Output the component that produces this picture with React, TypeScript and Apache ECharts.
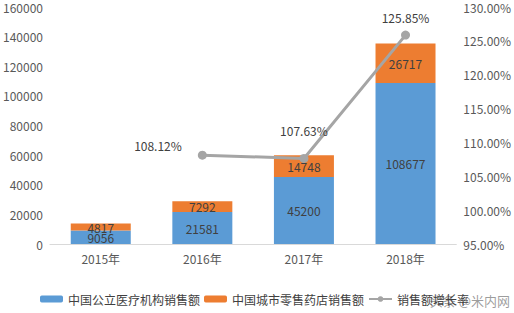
import React, { useEffect, useRef } from "react";
import * as echarts from "echarts";

const categories = ["2015年", "2016年", "2017年", "2018年"];
const publicHospital = [9056, 21581, 45200, 108677];
const retailPharmacy = [4817, 7292, 14748, 26717];
const growthRate: (number | null)[] = [null, 108.12, 107.63, 125.85];
const seriesNames = ["中国公立医疗机构销售额", "中国城市零售药店销售额", "销售额增长率"];

export default function App() {
  const ref = useRef<HTMLDivElement>(null);
  useEffect(() => {
    document.body.style.margin = "0";
    const chart = echarts.init(ref.current!, null, { renderer: "svg" });
    const font = "'Microsoft YaHei', 'Noto Sans CJK SC', sans-serif";
    const lineLabelCfg = [
      null,
      { position: "left", distance: 16, offset: [0, -10] },
      { position: "top", distance: 17 },
      { position: "top", distance: 7 },
    ];
    chart.setOption({
      animation: false,
      textStyle: { fontFamily: font },
      grid: { left: 47, right: 51, top: 7, bottom: 69 },
      legend: {
        bottom: 3,
        left: 35,
        itemWidth: 23,
        itemHeight: 7,
        itemGap: 4,
        textStyle: { fontSize: 12, color: "#404040", fontFamily: font },
        data: seriesNames,
      },
      graphic: [
        {
          type: "text",
          right: 4,
          bottom: 6,
          style: {
            text: "头条 @米内网",
            fontSize: 13,
            fontFamily: font,
            fill: "rgba(90,90,90,0.6)",
          },
        },
      ],
      xAxis: {
        type: "category",
        data: categories,
        axisLine: { lineStyle: { color: "#d9d9d9" } },
        axisTick: { show: false },
        axisLabel: { color: "#595959", fontSize: 12, margin: 8 },
      },
      yAxis: [
        {
          type: "value",
          min: 0,
          max: 160000,
          interval: 20000,
          splitLine: { show: false },
          axisLine: { show: false },
          axisTick: { show: false },
          axisLabel: {
            color: "#595959",
            fontSize: 12,
            margin: 7,
            formatter: (v: number) => String(v),
          },
        },
        {
          type: "value",
          min: 95,
          max: 130,
          interval: 5,
          splitLine: { show: false },
          axisLine: { show: false },
          axisTick: { show: false },
          axisLabel: {
            color: "#595959",
            fontSize: 12,
            margin: 7,
            formatter: (v: number) => v.toFixed(2) + "%",
          },
        },
      ],
      series: [
        {
          name: seriesNames[0],
          type: "bar",
          stack: "total",
          barWidth: 60,
          itemStyle: { color: "#5b9bd5" },
          label: { show: true, position: "inside", color: "#404040", fontSize: 12 },
          data: publicHospital,
        },
        {
          name: seriesNames[1],
          type: "bar",
          stack: "total",
          barWidth: 60,
          itemStyle: { color: "#ed7d31" },
          label: { show: true, position: "inside", color: "#404040", fontSize: 12 },
          data: retailPharmacy,
        },
        {
          name: seriesNames[2],
          type: "line",
          yAxisIndex: 1,
          symbol: "circle",
          symbolSize: 9,
          lineStyle: { color: "#a5a5a5", width: 3 },
          itemStyle: { color: "#a5a5a5" },
          data: growthRate.map((v, i) =>
            v === null
              ? null
              : {
                  value: v,
                  label: {
                    show: true,
                    color: "#404040",
                    fontSize: 12,
                    formatter: (p: any) => p.value.toFixed(2) + "%",
                    ...(lineLabelCfg[i] as any),
                  },
                }
          ),
        },
      ],
    });
    return () => chart.dispose();
  }, []);
  return <div ref={ref} style={{ width: 514, height: 313 }} />;
}
